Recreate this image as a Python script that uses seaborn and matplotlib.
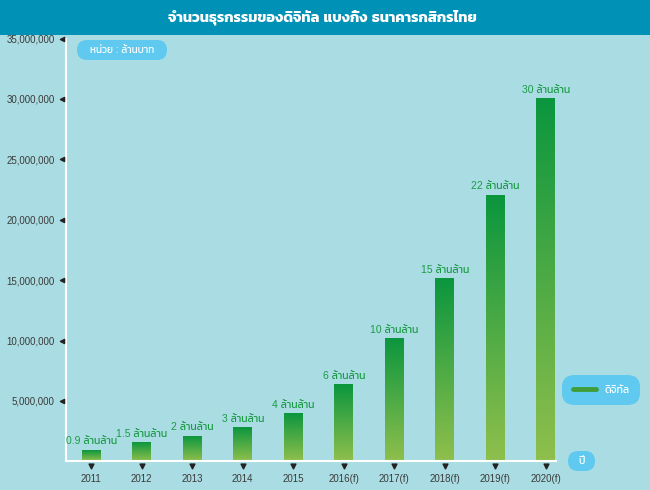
import numpy as np
import pandas as pd
import matplotlib
matplotlib.use("Agg")
import matplotlib.pyplot as plt
import seaborn as sns
from matplotlib import font_manager
from matplotlib.colors import LinearSegmentedColormap
from matplotlib.lines import Line2D
from matplotlib.patches import Rectangle, FancyBboxPatch
from matplotlib.ticker import FuncFormatter

# data (values in ล้านบาท)
years = ["2011", "2012", "2013", "2014", "2015",
         "2016(f)", "2017(f)", "2018(f)", "2019(f)", "2020(f)"]
values = [900000, 1500000, 2050000, 2750000, 3900000,
          6300000, 10100000, 15100000, 22000000, 30000000]
bar_labels = ["0.9", "1.5", "2", "3", "4", "6", "10", "15", "22", "30"]
y_ticks = [5000000, 10000000, 15000000, 20000000, 25000000, 30000000, 35000000]

title = "จำนวนธุรกรรมของดิจิทัล แบงกิ้ง ธนาคารกสิกรไทย"
unit_text = "หน่วย : ล้านบาท"
legend_text = "ดิจิทัล"
xlabel_text = "ปี"

BG = "#aadde3"
TITLE_BG = "#0091b6"
PILL = "#5fc9ef"
GREEN_TXT = "#1a9a45"
TOP_GREEN = "#0b963e"
BOTTOM_GREEN = "#8fbf4c"

sns.set_theme(style="white")
# pick a thai font that is installed
names = {f.name for f in font_manager.fontManager.ttflist}
thai = next((n for n in ["Kanit", "Prompt", "Athiti", "Bai Jamjuree", "Chakra Petch"] if n in names), "DejaVu Sans")
plt.rcParams["font.family"] = ["Liberation Sans", thai, "DejaVu Sans"]

df = pd.DataFrame({"year": years, "value": values})

fig = plt.figure(figsize=(6.5, 4.9), dpi=100)
fig.patch.set_facecolor(BG)
ax = fig.add_axes([66 / 650, 1 - 461.4 / 490, (556 - 66) / 650, (461.4 - 38.6) / 490])
ax.set_facecolor(BG)

sns.barplot(data=df, x="year", y="value", color=TOP_GREEN, width=0.375, ax=ax)

# gradient fill for each bar
cmap = LinearSegmentedColormap.from_list("g", [TOP_GREEN, BOTTOM_GREEN])
grad = np.linspace(0, 1, 256).reshape(-1, 1)
for p in ax.patches:
    x0, w, h = p.get_x(), p.get_width(), p.get_height()
    ax.imshow(grad, cmap=cmap, extent=[x0, x0 + w, 0, h], aspect="auto", zorder=2)
    p.set_facecolor("none")
    p.set_edgecolor("none")

for i, (v, lab) in enumerate(zip(values, bar_labels)):
    ax.annotate(lab + " ล้านล้าน", xy=(i, v), xytext=(0, 3), textcoords="offset points",
                ha="center", va="bottom", color=GREEN_TXT, fontsize=7.5)

ax.set_xlim(-0.5, 9.2)
ax.set_ylim(0, 35000000)
ax.set_yticks(y_ticks)
ax.yaxis.set_major_formatter(FuncFormatter(lambda v, _: f"{int(v):,}"))
ax.tick_params(axis="y", length=0, pad=8, labelsize=7, labelcolor="#3a3a3a")
ax.tick_params(axis="x", length=0, pad=9, labelsize=7, labelcolor="#3a3a3a")
ax.set_xlabel("")
ax.set_ylabel("")
for s in ["top", "right"]:
    ax.spines[s].set_visible(False)
for s in ["left", "bottom"]:
    ax.spines[s].set_color("white")
    ax.spines[s].set_linewidth(1.5)

# small triangle tick marks
ax.scatter([-0.008] * len(y_ticks), y_ticks, marker="<", s=9, color="#222222",
           transform=ax.get_yaxis_transform(), clip_on=False, zorder=5)
ax.scatter(range(len(years)), [-0.012] * len(years), marker="v", s=12, color="#222222",
           transform=ax.get_xaxis_transform(), clip_on=False, zorder=5)

# title band
fig.patches.append(Rectangle((0, 1 - 35 / 490), 1, 35 / 490, transform=fig.transFigure,
                             facecolor=TITLE_BG, edgecolor="none", zorder=0))
fig.text(322 / 650, 1 - 17 / 490, title, ha="center", va="center", color="white",
         fontsize=10.5, fontweight="bold")


def pill(x0, y0, x1, y1):
    # pixel box measured from the top-left corner
    r = (y1 - y0) / 2 / 100
    fig.add_artist(FancyBboxPatch((x0 / 100, (490 - y1) / 100), (x1 - x0) / 100,
                                  (y1 - y0) / 100, boxstyle=f"round,pad=0,rounding_size={r}",
                                  transform=fig.dpi_scale_trans,
                                  facecolor=PILL, edgecolor="none", zorder=1))


# unit pill
pill(77, 40, 167, 60)
fig.text(122 / 650, 1 - 50 / 490, unit_text, ha="center", va="center", color="white", fontsize=7.2)

# x label pill
pill(568, 451, 595, 471)
fig.text(581.5 / 650, 1 - 461 / 490, xlabel_text, ha="center", va="center", color="white", fontsize=7.5)

# legend
handle = Line2D([0], [0], color="#3f9d3a", lw=3.5)
leg = fig.legend([handle], [legend_text], loc="center", bbox_to_anchor=(601 / 650, 1 - 390 / 490),
                 frameon=True, fontsize=7.5, handlelength=2.2, borderpad=0.8, facecolor=PILL,
                 edgecolor="none", framealpha=1)
leg.get_frame().set_boxstyle("round,pad=0.2,rounding_size=1.2")
for t in leg.get_texts():
    t.set_color("white")

fig.savefig("out.png", dpi=100, facecolor=BG)
